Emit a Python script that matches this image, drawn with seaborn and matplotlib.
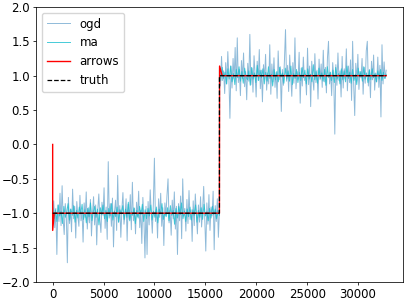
import matplotlib

matplotlib.use("Agg")
import matplotlib.pyplot as plt
import numpy as np
import seaborn as sns

plt.rcParams["font.size"] = 8.5
plt.rcParams["legend.fontsize"] = 8.5
plt.rcParams["axes.linewidth"] = 0.55
plt.rcParams["xtick.major.size"] = 2.2
plt.rcParams["ytick.major.size"] = 2.2
plt.rcParams["xtick.major.width"] = 0.55
plt.rcParams["ytick.major.width"] = 0.55
plt.rcParams["xtick.major.pad"] = 2.2
plt.rcParams["ytick.major.pad"] = 2.2

# ogd estimate (downsampled), one list per regime
ogd_first = [
    -1.05, -0.82, -1.21, -0.93, -1.60, -0.88, -1.12, -0.71, -1.18, -0.60,
    -1.09, -1.31, -0.86, -1.02, -1.72, -0.77, -1.15, -0.94, -1.27, -0.65,
    -1.08, -0.90, -1.36, -0.83, -1.04, -1.19, -0.74, -1.11, -0.97, -1.42,
    -0.85, -1.06, -0.69, -1.23, -0.92, -1.14, -0.80, -1.33, -0.99, -0.76,
    -1.17, -0.88, -1.46, -0.95, -0.72, -1.10, -1.28, -0.84, -1.03, -0.63,
    -1.22, -0.91, -1.38, -0.25, -1.07, -0.86, -1.19, -0.78, -1.49, -0.97,
    -0.81, -1.25, -0.45, -1.13, -0.89, -1.35, -0.94, -0.70, -1.16, -1.02,
    -0.79, -1.40, -0.87, -1.09, -0.73, -1.24, -0.55, -1.11, -0.93, -1.30,
    -0.84, -1.05, -0.68, -1.21, -0.96, -1.44, -0.77, -1.08, -1.65, -0.90,
    -1.60, -0.83, -1.17, -0.66, -1.01, -1.29, -0.87, -0.20, -1.12, -0.94,
    -1.36, -0.79, -1.06, -0.71, -1.19, -0.92, -1.47, -0.85, -1.03, -0.74,
    -0.50, -1.14, -0.96, -1.32, -0.81, -1.08, -0.69, -1.23, -0.90, -1.60,
    -0.86, -1.11, -0.75, -1.37, -0.50, -1.04, -0.93, -1.26, -0.80, -1.15,
    -0.67, -1.09, -0.95, -1.41, -0.82, -1.18, -0.72, -1.02, -1.30, -0.88,
    -1.13, -0.76, -1.20, -0.94, -0.61, -1.07, -1.55, -0.85, -1.16, -0.73,
    -1.25, -0.91, -1.04, -0.68, -1.53, -0.89, -1.12, -0.79, -1.35, -0.97,
]
ogd_second = [
    1.12, 0.85, 1.28, 0.93, 1.07, 0.74, 1.19, 0.88, 1.35, 0.97,
    0.38, 1.14, 0.82, 1.25, 0.95, 1.41, 0.78, 1.55, 0.90, 1.09,
    0.71, 1.22, 0.96, 1.33, 0.84, 1.06, 0.65, 1.18, 0.92, 1.60,
    0.87, 1.11, 0.76, 1.29, 1.01, 0.69, 1.21, 0.93, 1.38, 0.81,
    1.08, 0.62, 1.16, 0.95, 1.31, 0.79, 1.04, 0.88, 1.45, 0.73,
    1.17, 0.91, 1.26, 0.83, 1.05, 0.67, 1.36, 0.94, 1.13, 0.48,
    1.09, 0.86, 1.23, 1.67, 0.92, 1.15, 0.77, 1.30, 0.98, 0.70,
    1.19, 0.89, 1.55, 0.81, 1.06, 0.95, 1.34, 0.60, 1.11, 0.85,
    1.27, 0.93, 1.02, 0.72, 1.40, 0.87, 1.14, 0.55, 1.21, 0.96,
    0.79, 1.32, 0.90, 1.08, 0.66, 1.24, 0.94, 1.17, 0.83, 1.37,
    0.91, 1.12, 0.75, 1.26, 1.50, 0.88, 1.05, 0.71, 1.19, 0.97,
    0.15, 1.16, 0.86, 1.33, 0.93, 1.07, 0.69, 1.28, 0.82, 1.10,
    0.95, 1.39, 0.78, 1.14, 0.90, 1.23, 0.64, 1.50, 0.87, 0.42,
    1.18, 0.92, 1.31, 0.80, 1.06, 0.97, 1.25, 0.73, 1.12, 0.89,
    1.36, 1.50, 0.85, 1.09, 0.68, 1.21, 0.94, 1.30, 0.79, 1.04,
    0.91, 1.27, 0.83, 1.15, 0.40, 1.45, 0.88, 1.20, 0.96, 1.08,
]

# moving average, same idea
ma_first = [
    -0.92, -1.08, -0.95, -1.12, -0.88, -1.04, -0.97, -1.15, -0.90, -1.06,
    -0.99, -0.86, -1.10, -0.94, -1.03, -0.89, -1.13, -0.96, -1.07, -0.91,
    -1.01, -0.87, -1.09, -0.95, -1.14, -0.93, -1.05, -0.85, -1.11, -0.98,
    -0.90, -1.06, -0.94, -1.17, -0.92, -1.02, -0.88, -1.08, -0.96, -1.12,
    -0.93, -1.04, -0.86, -1.10, -0.97, -1.05, -0.91, -1.13, -0.95, -1.01,
    -0.89, -1.09, -0.94, -1.06, -0.84, -1.11, -0.98, -1.03, -0.92, -1.15,
    -0.96, -1.07, -0.90, -1.02, -0.87, -1.12, -0.95, -1.08, -0.93, -1.04,
    -0.88, -1.10, -0.97, -1.06, -0.91, -1.14, -0.94, -1.01, -0.86, -1.09,
    -0.99, -1.05, -0.92, -1.11, -0.89, -1.03, -0.96, -1.16, -0.93, -1.07,
    -0.90, -1.02, -0.85, -1.08, -0.97, -1.12, -0.94, -1.05, -0.91, -1.10,
    -0.95, -1.03, -0.88, -1.13, -0.96, -1.06, -0.92, -1.09, -0.87, -1.04,
    -0.98, -1.11, -0.93, -1.07, -0.90, -1.02, -0.94, -1.08, -0.96, -1.03,
]
ma_second = [
    1.08, 0.93, 1.12, 0.96, 1.05, 0.88, 1.10, 0.95, 1.14, 0.91,
    1.03, 0.87, 1.09, 0.97, 1.13, 0.92, 1.06, 0.89, 1.11, 0.98,
    0.94, 1.07, 0.86, 1.12, 0.95, 1.04, 0.90, 1.15, 0.93, 1.08,
    0.97, 1.10, 0.88, 1.05, 0.92, 1.13, 0.96, 1.02, 0.85, 1.09,
    0.94, 1.06, 0.91, 1.12, 0.98, 1.04, 0.89, 1.11, 0.95, 1.07,
    0.92, 1.14, 0.87, 1.03, 0.96, 1.09, 0.90, 1.05, 0.93, 1.12,
    0.97, 1.08, 0.88, 1.10, 0.95, 1.02, 0.91, 1.16, 0.94, 1.06,
    0.89, 1.11, 0.96, 1.04, 0.92, 1.09, 0.86, 1.13, 0.97, 1.05,
    0.93, 1.08, 0.90, 1.12, 0.95, 1.03, 0.88, 1.10, 0.94, 1.07,
    0.91, 1.14, 0.96, 1.05, 0.89, 1.09, 0.93, 1.02, 0.87, 1.11,
    0.98, 1.06, 0.92, 1.13, 0.95, 1.04, 0.90, 1.08, 0.94, 1.10,
    0.97, 1.03, 0.91, 1.07, 0.95, 1.09, 0.93, 1.05, 0.96, 1.02,
]

# arrows estimate (jumps at start and at the change point)
arrows_t = [0, 2, 150, 16383, 16400, 16650, 32767]
arrows_y = [0.0, -1.25, -1.0, -1.0, 1.14, 1.0, 1.0]

# ground truth
truth_t = [0, 16383, 16384, 32767]
truth_y = [-1.0, -1.0, 1.0, 1.0]

n_half = 16384
t_ogd = np.concatenate([np.linspace(0, n_half - 1, len(ogd_first)),
                        np.linspace(n_half, 2 * n_half - 1, len(ogd_second))])
t_ma = np.concatenate([np.linspace(0, n_half - 1, len(ma_first)),
                       np.linspace(n_half, 2 * n_half - 1, len(ma_second))])
ogd = np.array(ogd_first + ogd_second)
ma = np.array(ma_first + ma_second)

fig, ax = plt.subplots(figsize=(4.09, 3.0), dpi=100)
plt.subplots_adjust(left=0.088, right=0.985, top=0.977, bottom=0.06)

sns.lineplot(x=t_ogd, y=ogd, ax=ax, color="tab:blue", alpha=0.5, lw=0.7,
             estimator=None, label="ogd")
sns.lineplot(x=t_ma, y=ma, ax=ax, color="tab:cyan", alpha=0.8, lw=0.7,
             estimator=None, label="ma")
sns.lineplot(x=arrows_t, y=arrows_y, ax=ax, color="red", lw=1.0,
             estimator=None, label="arrows")
sns.lineplot(x=truth_t, y=truth_y, ax=ax, color="black", lw=0.9,
             linestyle="--", estimator=None, label="truth")

ax.set_ylim(-2, 2)
ax.set_yticks(np.arange(-2, 2.01, 0.5))
ax.legend(loc="upper left")

plt.savefig("out.png", dpi=100)
plt.close("all")
